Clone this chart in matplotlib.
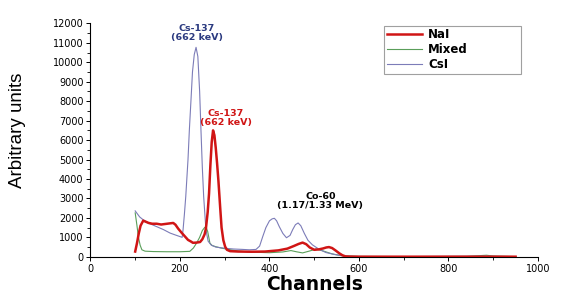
import matplotlib
matplotlib.use("Agg")
import matplotlib.pyplot as plt
from matplotlib.ticker import MultipleLocator

plt.rcParams["font.family"] = ["DejaVu Sans"]

# NaI spectrum
nai_ch = [100, 104, 108, 112, 118, 124, 130, 138, 148, 158, 168, 178, 185, 190,
          196, 204, 211, 218, 225, 229, 237, 245, 250, 255, 258, 262, 265, 268,
          271, 274, 277, 280, 283, 286, 290, 293, 297, 301, 305, 312, 330, 360,
          390, 420, 440, 455, 465, 474, 482, 490, 500, 510, 520, 527, 533, 540,
          548, 556, 563, 570, 580, 600, 700, 800, 900, 950]
nai_val = [270, 700, 1200, 1600, 1860, 1800, 1740, 1700, 1700, 1660, 1690, 1720, 1740, 1650,
           1450, 1230, 1050, 870, 780, 720, 730, 760, 900, 1150, 1450, 2300, 3250, 4700,
           5900, 6500, 6250, 5600, 4800, 3900, 2500, 1500, 850, 520, 360, 290, 270, 260,
           270, 330, 420, 560, 660, 730, 650, 480, 360, 380, 430, 480, 500, 450,
           320, 180, 80, 20, 10, 5, 5, 5, 5, 5]

# Mixed spectrum
mix_ch = [100, 104, 107, 111, 115, 122, 140, 170, 200, 222, 230, 237, 244, 250, 255,
          258, 262, 267, 272, 280, 292, 310, 330, 360, 400, 430, 448, 460, 474, 490,
          504, 520, 540, 560, 600, 700, 840, 870, 885, 900, 950]
mix_val = [2260, 1600, 1040, 600, 360, 290, 270, 260, 260, 280, 450, 700, 1000, 1350, 1500,
           1550, 1300, 700, 580, 520, 450, 370, 300, 240, 210, 250, 320, 260, 200, 300,
           400, 300, 150, 60, 20, 10, 20, 60, 80, 40, 10]

# CsI spectrum
csi_ch = [100, 110, 118, 130, 148, 163, 178, 190, 200, 205, 207, 210, 213, 218, 221,
          225, 228, 232, 236, 240, 244, 247, 250, 253, 258, 263, 270, 280, 300, 320,
          340, 355, 370, 378, 385, 392, 400, 406, 411, 416, 422, 430, 438, 446, 452,
          458, 464, 470, 478, 486, 496, 510, 526, 545, 570, 600, 700, 880, 950]
csi_val = [2360, 2050, 1900, 1730, 1550, 1400, 1220, 1120, 1040, 1000, 1400, 2200, 3100, 5000, 6500,
           8200, 9500, 10400, 10770, 10300, 8500, 6500, 4600, 3100, 1400, 800, 600, 500, 440, 400,
           380, 360, 380, 550, 1040, 1500, 1850, 1950, 1980, 1850, 1550, 1200, 980, 1100, 1400,
           1650, 1740, 1600, 1200, 850, 615, 400, 220, 120, 30, 15, 10, 30, 10]

fig = plt.figure(figsize=(5.76, 3.0), dpi=100)
ax = fig.add_axes([0.157, 0.144, 0.777, 0.778])

ax.plot(nai_ch, nai_val, color="#d01515", lw=1.8, label="NaI", zorder=3)
ax.plot(mix_ch, mix_val, color="#5a9e5a", lw=0.8, label="Mixed", zorder=2)
ax.plot(csi_ch, csi_val, color="#7c7cb8", lw=0.8, label="CsI", zorder=2)

ax.set_xlim(0, 1000)
ax.set_ylim(0, 12000)
ax.xaxis.set_major_locator(MultipleLocator(200))
ax.xaxis.set_minor_locator(MultipleLocator(100))
ax.yaxis.set_major_locator(MultipleLocator(1000))
ax.yaxis.set_minor_locator(MultipleLocator(500))
ax.spines["top"].set_visible(False)
ax.spines["right"].set_visible(False)
ax.tick_params(labelsize=7, length=3, width=0.7, pad=2)
ax.tick_params(which="minor", length=2, width=0.6)

ax.set_xlabel("Channels", fontsize=13.5, fontweight="bold", labelpad=1)
ax.set_ylabel("Arbitrary units", fontsize=13.5, family="Liberation Sans")
ax.yaxis.set_label_coords(-0.145, 0.54)

ax.text(237, 11040, "Cs-137\n(662 keV)", color="#2b3a80", fontsize=6.8,
        fontweight="bold", ha="center", va="bottom", linespacing=1.0)
ax.text(302, 6670, "Cs-137\n(662 keV)", color="#d01515", fontsize=6.8,
        fontweight="bold", ha="center", va="bottom", linespacing=1.0)
ax.text(514, 2410, "Co-60\n(1.17/1.33 MeV)", color="black", fontsize=6.8,
        fontweight="bold", ha="center", va="bottom", linespacing=1.0)

leg = ax.legend(loc="upper left", bbox_to_anchor=(0.656, 0.812, 0.306, 0.179),
                mode="expand", fontsize=8.5, frameon=True, fancybox=False,
                edgecolor="#888888", handlelength=3.0, borderpad=0.25,
                labelspacing=0.15, handletextpad=0.5, borderaxespad=0)
leg.get_frame().set_linewidth(0.8)
for t in leg.get_texts():
    t.set_fontweight("bold")

fig.savefig("out.png", dpi=100)
